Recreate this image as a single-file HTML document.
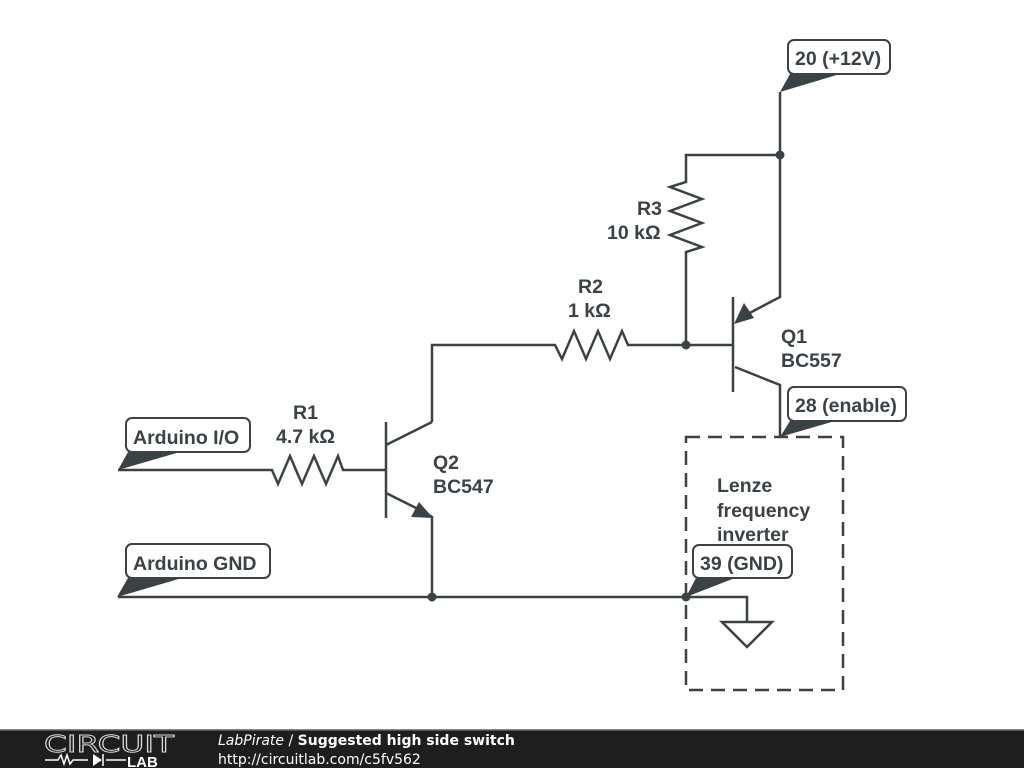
<!DOCTYPE html>
<html><head><meta charset="utf-8"><style>
html,body{margin:0;padding:0;background:#fff;width:1024px;height:768px;overflow:hidden}
svg{display:block}
.t{font-family:"Liberation Sans",sans-serif;font-weight:bold;font-size:19.5px;fill:#3b4246}
</style></head><body>
<svg width="1024" height="768" viewBox="0 0 1024 768">
<g stroke="#3b4246" stroke-width="2.5" fill="none" stroke-linejoin="miter">
<polyline points="780,92 780,297 742,317"/>
<polyline points="780,155 686,155 686,182 670,187 702,199 670,211 702,223 670,235 702,247 686,252 686,345"/>
<line x1="733" y1="297" x2="733" y2="392"/>
<polyline points="735,367 780,385 780,437"/>
<polyline points="432,422 432,345 555,345 562,359 574,331 586,359 598,331 610,359 622,331 628,345 733,345"/>
<line x1="386" y1="422" x2="386" y2="518"/>
<line x1="386" y1="445" x2="432" y2="422"/>
<polyline points="118,470 272,470 278,484 290,456 302,484 314,456 326,484 338,456 343,470 386,470"/>
<polyline points="386,493 424,512 432,517 432,597"/>
<polyline points="118,597 747,597 747,622"/>
<polygon points="722,622 772,622 747,647"/>
<rect x="686" y="437" width="157" height="253" stroke-dasharray="14,8"/>
</g>
<g fill="#3b4246">
<polygon points="734,324 744,303 754,318"/>
<polygon points="433,518 411,517 419,502"/>
<circle cx="780" cy="155" r="4.5"/>
<circle cx="686" cy="345" r="4.5"/>
<circle cx="432" cy="597" r="4.5"/>
<circle cx="686" cy="597" r="4.5"/>
<polygon points="780,92 790,74 840,74"/>
<polygon points="780,437 790,421 835,421"/>
<polygon points="118,470 128,452 180,452"/>
<polygon points="117,597 128,578 182,578"/>
<polygon points="686,597 696,578 735,578"/>
</g>
<g fill="#fff" stroke="#3b4246" stroke-width="2">
<rect x="788" y="40" width="102" height="34" rx="6"/>
<rect x="788" y="387" width="118" height="34" rx="6"/>
<rect x="126" y="418" width="124" height="34" rx="6"/>
<rect x="126" y="544" width="144" height="34" rx="6"/>
<rect x="693" y="545" width="99" height="33" rx="6"/>
</g>
<text class="t" x="795" y="65">20 (+12V)</text>
<text class="t" x="795" y="412">28 (enable)</text>
<text class="t" x="133" y="444">Arduino I/O</text>
<text class="t" x="133" y="570">Arduino GND</text>
<text class="t" x="700" y="570">39 (GND)</text>
<text class="t" x="717" y="492">Lenze</text>
<text class="t" x="717" y="517">frequency</text>
<text class="t" x="717" y="541">inverter</text>
<text class="t" x="293" y="419">R1</text>
<text class="t" x="276" y="443">4.7 kΩ</text>
<text class="t" x="433" y="469">Q2</text>
<text class="t" x="433" y="493">BC547</text>
<text class="t" x="578" y="293">R2</text>
<text class="t" x="568" y="317">1 kΩ</text>
<text class="t" x="637" y="215">R3</text>
<text class="t" x="607" y="239">10 kΩ</text>
<text class="t" x="781" y="343">Q1</text>
<text class="t" x="781" y="367">BC557</text>
<rect x="0" y="729" width="1024" height="39" fill="#1e1e1e"/>
<rect x="0" y="729" width="1024" height="1.5" fill="#888"/>
<text x="44" y="752" font-family="DejaVu Sans,sans-serif" font-size="23" fill="none" stroke="#ddd" stroke-width="0.9" textLength="130" lengthAdjust="spacingAndGlyphs">CIRCUIT</text>
<g stroke="#fff" stroke-width="1.5" fill="none">
<polyline points="45,760 58,760 61,755 64,764 67,755 70,764 73,760 88,760"/>
<line x1="106" y1="760" x2="126" y2="760"/>
<line x1="103" y1="754" x2="103" y2="766"/>
</g>
<polygon points="93,754 93,766 102,760" fill="#fff"/>
<text x="127" y="767" font-family="Liberation Sans,sans-serif" font-weight="bold" font-size="15" fill="#fff">LAB</text>
<text x="218" y="745" font-family="DejaVu Sans,sans-serif" font-size="14" fill="#fff"><tspan font-style="italic">LabPirate</tspan> / <tspan font-weight="bold">Suggested high side switch</tspan></text>
<text x="218" y="764" font-family="DejaVu Sans,sans-serif" font-size="14" fill="#fff">http://circuitlab.com/c5fv562</text>
</svg>
</body></html>
